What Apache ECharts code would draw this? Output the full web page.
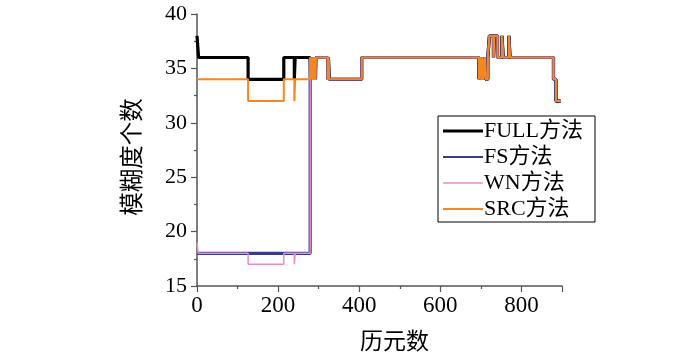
<!DOCTYPE html>
<html><head><meta charset="utf-8">
<script src="https://cdn.jsdelivr.net/npm/echarts@6/dist/echarts.min.js"></script>
<style>html,body{margin:0;padding:0;background:#fff}#c{width:700px;height:352px}</style>
</head><body><div id="c"></div>
<script>
// change points (epoch, value) for step lines
const fullHeadEpochs = [0, 4, 126, 214, 240, 242];
const fullHeadValues = [38, 36, 34, 36, 34, 36];
const fsHeadEpochs = [0];
const fsHeadValues = [18];
const wnHeadEpochs = [0, 3, 126, 214, 240, 242];
const wnHeadValues = [19, 18, 17, 18, 17, 18];
const srcHeadEpochs = [0, 126, 214, 240, 242];
const srcHeadValues = [34, 32, 34, 32, 34];
// shared path after epoch ~279
const tailEpochs = [279, 280, 281, 282, 283, 284, 286, 287, 288, 289, 291, 292, 293, 322, 324, 326, 406, 695, 699, 701, 704, 706, 710, 712, 717, 721, 731, 733, 741, 752, 755, 769, 772, 879, 885, 897];
const tailValues = [36, 34, 36, 34, 36, 34, 36, 34, 36, 34, 36, 34, 36, 34, 36, 34, 36, 34, 36, 34, 36, 34, 36, 34, 36, 38, 36, 38, 36, 38, 36, 38, 36, 34, 32, 32];
const seriesNames = ['FULL方法', 'FS方法', 'WN方法', 'SRC方法'];
const yTicks = [15, 20, 25, 30, 35, 40];
const xTicks = [0, 200, 400, 600, 800];

function pairs(xs, ys) { return xs.map((x, i) => [x, ys[i]]); }
function build(hx, hy) { return pairs(hx, hy).concat(pairs(tailEpochs, tailValues)); }

const serif = "'Liberation Serif', 'Noto Sans CJK SC', serif";
const colors = ['#000000', '#3b3b8e', '#e88cc8', '#f7861f'];
const widths = [3.2, 3.2, 1.5, 2];
const iconH = [3, 2, 1.5, 2];
const datas = [
  build(fullHeadEpochs, fullHeadValues),
  build(fsHeadEpochs, fsHeadValues),
  build(wnHeadEpochs, wnHeadValues),
  build(srcHeadEpochs, srcHeadValues)
];

function lineIcon(h) {
  const t = (14 - h) / 2;
  return 'path://M0,' + t + 'L40,' + t + 'L40,' + (t + h) + 'L0,' + (t + h) + 'Z';
}

const chart = echarts.init(document.getElementById('c'), null, {renderer: 'canvas'});
chart.setOption({
  animation: false,
  color: colors,
  grid: {left: 197, right: 138, top: 14, bottom: 66, containLabel: false, outerBoundsMode: 'none'},
  xAxis: {
    type: 'value', min: 0, max: 900, interval: 200,
    name: '历元数', nameLocation: 'middle', nameGap: 45,
    nameTextStyle: {fontFamily: serif, fontSize: 23, color: '#000', padding: [0, 0, 0, 30]},
    axisLine: {show: true, lineStyle: {color: '#555', width: 1.5}},
    axisTick: {show: true, inside: false, length: 6, lineStyle: {color: '#555', width: 1.2}},
    minorTick: {show: true, splitNumber: 2, length: 3, lineStyle: {color: '#555', width: 1.2}},
    axisLabel: {fontFamily: serif, fontSize: 23, color: '#000', margin: 8, showMaxLabel: false,
      formatter: v => xTicks.includes(v) ? String(v) : ''},
    splitLine: {show: false}
  },
  yAxis: {
    type: 'value', min: 15, max: 40, interval: 5,
    name: '模糊度个数', nameLocation: 'middle', nameGap: 51, nameRotate: 90,
    nameTextStyle: {fontFamily: serif, fontSize: 23.5, color: '#000', padding: [0, 14, 0, 0]},
    axisLine: {show: true, lineStyle: {color: '#555', width: 1.5}},
    axisTick: {show: true, length: 6, lineStyle: {color: '#555', width: 1.2}},
    minorTick: {show: true, splitNumber: 2, length: 3, lineStyle: {color: '#555', width: 1.2}},
    axisLabel: {fontFamily: serif, fontSize: 22, color: '#000', margin: 10,
      formatter: v => yTicks.includes(v) ? String(v) : ''},
    splitLine: {show: false}
  },
  legend: {
    orient: 'vertical', left: 438, top: 116,
    padding: [4, 12, 2, 5], itemGap: 4, itemWidth: 40, itemHeight: 14,
    borderColor: '#000', borderWidth: 1, backgroundColor: '#fff',
    textStyle: {fontFamily: serif, fontSize: 22, color: '#000', lineHeight: 22, padding: [0, 0, 0, -4]},
    data: seriesNames.map((n, i) => ({name: n, icon: lineIcon(iconH[i]), itemStyle: {color: colors[i], borderWidth: 0}}))
  },
  series: seriesNames.map((n, i) => ({
    name: n, type: 'line', step: 'end', data: datas[i], symbol: 'none', showSymbol: false,
    lineStyle: {color: colors[i], width: widths[i]}, itemStyle: {color: colors[i]}, z: 2 + i
  }))
});
</script></body></html>
